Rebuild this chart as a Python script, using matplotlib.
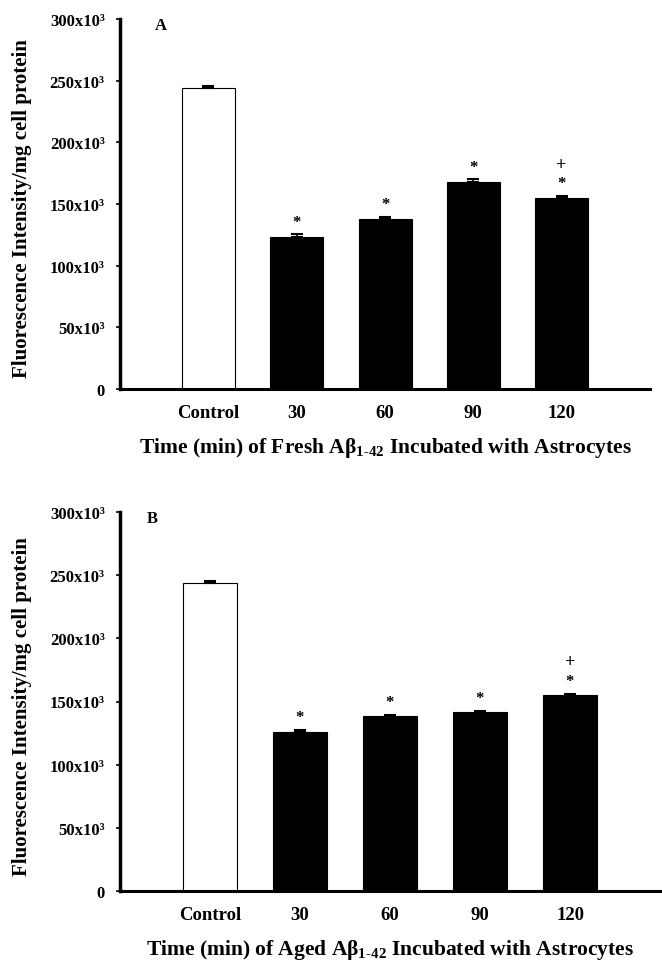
import matplotlib
matplotlib.use("Agg")
import matplotlib.pyplot as plt
import numpy as np

plt.rcParams['font.family'] = ['Liberation Serif', 'DejaVu Serif']
plt.rcParams['font.weight'] = 'bold'
plt.rcParams['mathtext.fontset'] = 'custom'
plt.rcParams['mathtext.rm'] = 'Liberation Serif:bold'
plt.rcParams['mathtext.bf'] = 'Liberation Serif:bold'
plt.rcParams['mathtext.it'] = 'Liberation Serif:bold'

categories = ["Control", "30", "60", "90", "120"]
fresh_values = [244, 123, 138, 168, 155]      # x10^3
fresh_errors = [1.5, 2.5, 1.5, 2.0, 1.5]
aged_values = [244, 126, 138.5, 141.5, 155]
aged_errors = [1.5, 1.5, 1.2, 1.0, 1.0]
fresh_marks = ["", "*", "*", "*", "+*"]
aged_marks = ["", "*", "*", "*", "+*"]
yticks = [0, 50, 100, 150, 200, 250, 300]
ytick_labels = ["0"] + [f"{v}x10³" for v in yticks[1:]]
ylabel = "Fluorescence Intensity/mg cell protein"
xlabel_a = r"Time (min) of Fresh A$\beta_{1\text{-}42}$ Incubated with Astrocytes"
xlabel_b = r"Time (min) of Aged A$\beta_{1\text{-}42}$ Incubated with Astrocytes"

fig = plt.figure(figsize=(6.62, 9.62), dpi=100)
W, H = 662, 962
axA = fig.add_axes([120 / W, 1 - 390 / H, 530 / W, 370 / H])
axB = fig.add_axes([120 / W, 1 - 892 / H, 540 / W, 379 / H])


def draw(ax, values, errors, marks, xlabel, letter, letter_x, ylab_x):
    x = np.arange(len(categories))
    vals = np.array(values) * 1000
    errs = np.array(errors) * 1000
    colors = ["white"] + ["black"] * (len(categories) - 1)
    ax.bar(x, vals, width=0.6, color=colors, edgecolor="black", linewidth=0.8, zorder=2)
    ax.errorbar(x, vals, yerr=[np.zeros_like(errs), errs], fmt="none", ecolor="black",
                elinewidth=1.2, capsize=4, capthick=1.5, zorder=3)
    for xi, v, e, m in zip(x, vals, errs, marks):
        if "*" in m:
            ax.annotate("*", (xi, v + e), xytext=(0, 9), textcoords="offset points",
                        ha="center", va="center", fontsize=12, fontweight="bold")
        if "+" in m:
            ax.annotate("+", (xi, v + e), xytext=(0, 23), textcoords="offset points",
                        ha="center", va="center", fontsize=13, fontweight="bold")
    ax.set_xlim(-1.0, len(categories))
    ax.set_ylim(0, 300000)
    ax.set_yticks([v * 1000 for v in yticks])
    ax.set_yticklabels(ytick_labels, fontsize=12, fontweight="bold")
    ax.set_xticks(x)
    ax.set_xticklabels(categories, fontsize=13.5, fontweight="bold")
    ax.tick_params(axis="x", length=0, pad=11)
    ax.tick_params(axis="y", length=3, width=1.2, pad=8, direction="out")
    for s in ["top", "right"]:
        ax.spines[s].set_visible(False)
    ax.spines["left"].set_linewidth(2.5)
    ax.spines["bottom"].set_linewidth(2.2)
    ax.set_ylabel(ylabel, fontsize=15, fontweight="bold")
    ax.yaxis.set_label_coords(ylab_x, 0.49)
    ax.set_xlabel(xlabel, fontsize=15.5, fontweight="bold", labelpad=10)
    ax.text(letter_x, 1.005, letter, transform=ax.transAxes, fontsize=12,
            fontweight="bold", ha="left", va="top")


draw(axA, fresh_values, fresh_errors, fresh_marks, xlabel_a, "A", 0.065, -0.166)
draw(axB, aged_values, aged_errors, aged_marks, xlabel_b, "B", 0.05, -0.163)

fig.savefig("out.png", dpi=100)
